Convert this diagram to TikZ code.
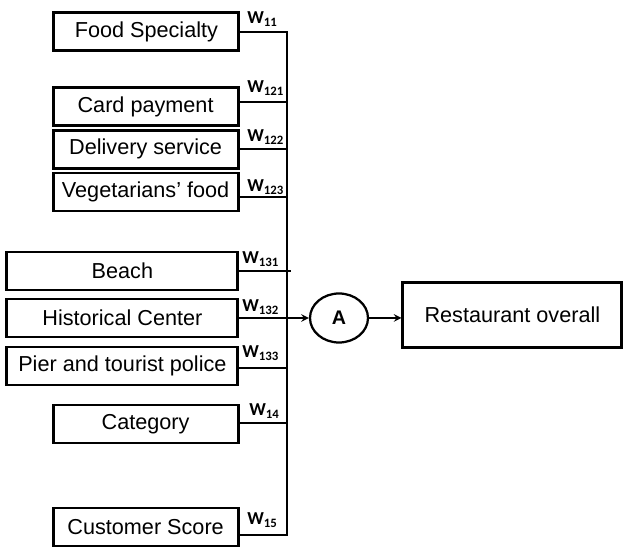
\documentclass[tikz,border=0pt]{standalone}
\usepackage{fontspec}
\setmainfont{Liberation Sans}
\newfontfamily\wfont{Carlito}
\usetikzlibrary{shapes.geometric}
\tikzstyle{factor} = [rectangle, minimum width=4.625cm, minimum height=0.95cm, text centered, draw=black, line width=2pt, inner sep=0pt, font=\fontsize{15.4}{17}\selectfont]
\tikzstyle{widefactor} = [factor, minimum width=5.775cm]
\tikzstyle{result} = [factor, minimum width=5.475cm, minimum height=1.625cm]
\tikzstyle{agg} = [ellipse, minimum width=1.45cm, minimum height=1.225cm, draw=black, line width=1.6pt, inner sep=0pt, font=\fontsize{14}{16}\selectfont\bfseries]
\tikzstyle{weight} = [anchor=base west, inner sep=0pt, font=\wfont\fontsize{13}{15}\selectfont\bfseries]
\tikzstyle{link} = [line width=1.4pt]
\tikzstyle{arrow} = [line width=1.4pt,->,>=stealth]

\begin{document}
\begin{tikzpicture}
\useasboundingbox (0,0) rectangle (15.575,13.675);

% Critères
\node (food) [factor] at (3.66,12.88) {Food Specialty};
\node (card) [factor] at (3.64,11.01) {Card payment};
\node (delivery) [factor] at (3.64,9.94) {Delivery service};
\node (veg) [factor] at (3.64,8.875) {Vegetarians’ food};
\node (beach) [widefactor] at (3.06,6.9) {Beach};
\node (hist) [widefactor] at (3.06,5.725) {Historical Center};
\node (pier) [widefactor] at (3.06,4.525) {Pier and tourist police};
\node (cat) [factor] at (3.64,3.075) {Category};
\node (cust) [factor] at (3.64,0.5) {Customer Score};

% Agrégation et sortie
\node (agg) [agg] at (8.475,5.725) {A};
\node (rest) [result] at (12.81,5.81) {Restaurant overall};

% Bus
\coordinate (bustop) at (7.175,12.875);
\coordinate (busbot) at (7.175,0.3);
\coordinate (b121) at (7.175,11.125);
\coordinate (b122) at (7.175,9.95);
\coordinate (b123) at (7.175,8.75);
\coordinate (b131) at (7.275,6.9);
\coordinate (b133) at (7.175,4.475);
\coordinate (b14) at (7.175,3.1);

% Liaisons
\draw [link] (food.east |- bustop) -- (bustop) -- (busbot) -- (cust.east |- busbot);
\draw [link] (card.east |- b121) -- (b121);
\draw [link] (delivery.east |- b122) -- (b122);
\draw [link] (veg.east |- b123) -- (b123);
\draw [link] (beach.east |- b131) -- (b131);
\draw [arrow] (hist.east) -- (agg.west);
\draw [link] (pier.east |- b133) -- (b133);
\draw [link] (cat.east |- b14) -- (b14);
\draw [arrow] (agg.east) -- (agg.east -| rest.west);

% Poids
\node (w11) [weight] at (6.175,13.075) {W\textsubscript{11}};
\node (w121) [weight] at (6.175,11.35) {W\textsubscript{121}};
\node (w122) [weight] at (6.175,10.125) {W\textsubscript{122}};
\node (w123) [weight] at (6.175,8.875) {W\textsubscript{123}};
\node (w131) [weight] at (6.05,7.075) {W\textsubscript{131}};
\node (w132) [weight] at (6.05,5.875) {W\textsubscript{132}};
\node (w133) [weight] at (6.05,4.725) {W\textsubscript{133}};
\node (w14) [weight] at (6.225,3.275) {W\textsubscript{14}};
\node (w15) [weight] at (6.175,0.55) {W\textsubscript{15}};

\end{tikzpicture}
\end{document}
